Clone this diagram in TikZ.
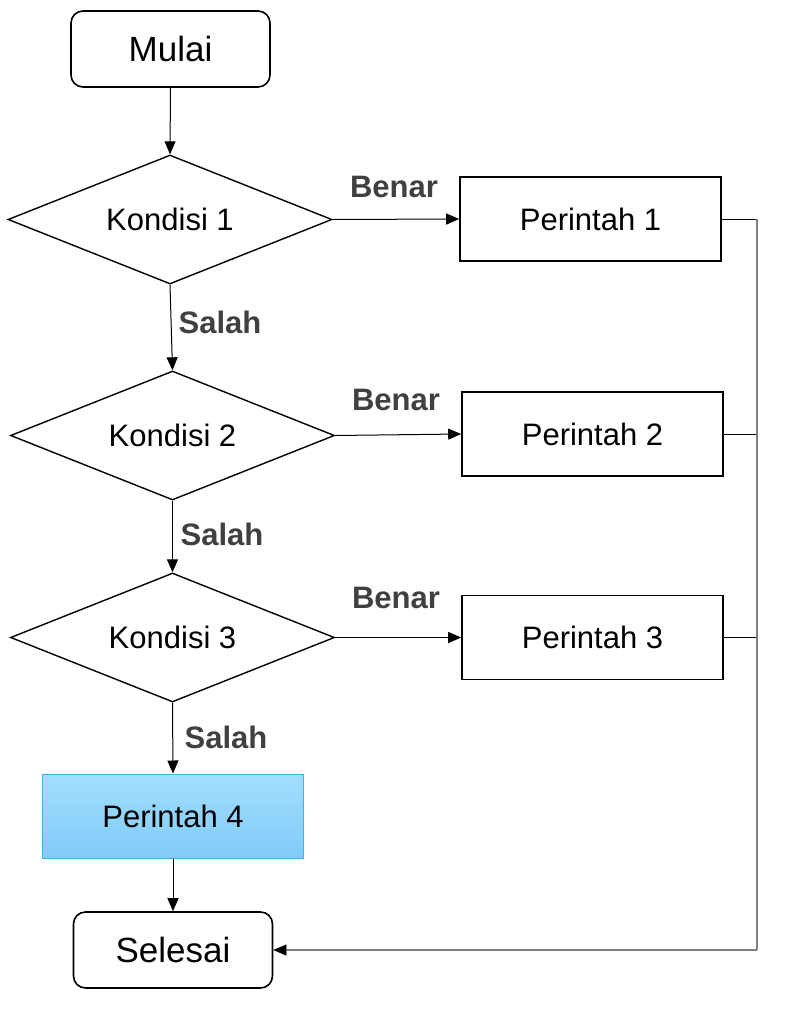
\documentclass[tikz,border=0pt]{standalone}
\usepackage{fontspec}
\setmainfont{Liberation Sans}
\usetikzlibrary{shapes.geometric,arrows.meta}
\definecolor{lbl}{HTML}{404040}
\definecolor{ptop}{HTML}{A2DDFC}
\definecolor{pbot}{HTML}{7FCCF9}
\definecolor{pbrd}{HTML}{3FB4E6}
\definecolor{rline}{HTML}{7F7F7F}
\begin{document}
\begin{tikzpicture}[x=1pt,y=-1pt,
  term/.style={draw,line width=1.6pt,rounded corners=12pt,minimum width=199pt,minimum height=76pt,font=\fontsize{35}{40}\selectfont,inner sep=0pt},
  dec/.style={draw,line width=1.4pt,diamond,aspect=2.5,minimum width=324pt,minimum height=129pt,font=\fontsize{31}{36}\selectfont,inner sep=0pt},
  proc/.style={draw,line width=1.6pt,minimum width=261pt,minimum height=84pt,font=\fontsize{31}{36}\selectfont,inner sep=0pt},
  lab/.style={text=lbl,font=\bfseries\fontsize{31}{36}\selectfont,inner sep=0pt},
  arr/.style={line width=1pt,-{Triangle[length=13pt,width=11pt]}},
  conn/.style={line width=1pt}]
\useasboundingbox (0,0) rectangle (795,1036);
\node[term] (mulai) at (170.5,49) {Mulai};
\node[dec] (k1) at (170,219.5) {Kondisi 1};
\node[proc] (p1) at (590.5,219) {Perintah 1};
\node[dec] (k2) at (172.5,435.5) {Kondisi 2};
\node[proc] (p2) at (592.5,434) {Perintah 2};
\node[dec] (k3) at (172.5,637.5) {Kondisi 3};
\node[proc] (p3) at (592.5,637.5) {Perintah 3};
\node[proc,draw=pbrd,line width=1pt,top color=ptop,bottom color=pbot] (p4) at (173,816) {Perintah 4};
\node[term] (selesai) at (173,950) {Selesai};
\coordinate (r1) at (757,219);
\coordinate (r2) at (757,434);
\coordinate (r3) at (757,637.5);
\coordinate (rb) at (757,950);
\node[lab] (b1) at (394,187) {Benar};
\node[lab] (b2) at (396,400) {Benar};
\node[lab] (b3) at (396,598) {Benar};
\node[lab] (s1) at (220,322) {Salah};
\node[lab] (s2) at (222,534) {Salah};
\node[lab] (s3) at (226,737) {Salah};
\draw[arr] (mulai.south) -- (k1.north);
\draw[arr] (k1.east) -- (p1.west);
\draw[arr] (k1.south) -- (k2.north);
\draw[arr] (k2.east) -- (p2.west);
\draw[arr] (k2.south) -- (k3.north);
\draw[arr] (k3.east) -- (p3.west);
\draw[arr] (k3.south) -- (p4.north);
\draw[arr] (p4.south) -- (selesai.north);
\draw[conn] (p1.east) -- (r1);
\draw[conn] (p2.east) -- (r2);
\draw[conn] (p3.east) -- (r3);
\draw[conn,draw=rline,line width=1.4pt] (r1) -- (rb);
\draw[conn,draw=rline,line width=1.4pt,-{Triangle[length=13pt,width=11pt,color=black,line width=0.5pt]}] (rb) -- (selesai.east);
\end{tikzpicture}
\end{document}
